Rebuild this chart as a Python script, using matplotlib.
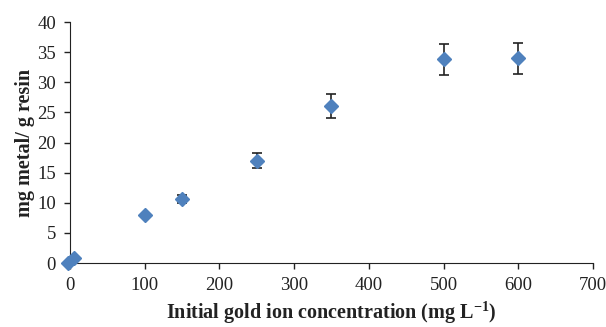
import matplotlib
matplotlib.use("Agg")
import matplotlib.pyplot as plt

# gold uptake vs initial concentration
conc = [-2, 5, 100, 150, 250, 350, 500, 600]
uptake = [0.0, 0.8, 7.9, 10.6, 17.0, 26.1, 33.8, 34.0]
err = [0.0, 0.0, 0.0, 0.7, 1.3, 2.0, 2.55, 2.55]

plt.rcParams["font.family"] = ["Liberation Serif", "DejaVu Serif"]
plt.rcParams["mathtext.fontset"] = "custom"
plt.rcParams["mathtext.rm"] = "Liberation Serif:bold"
plt.rcParams["mathtext.bf"] = "Liberation Serif:bold"
plt.rcParams["mathtext.default"] = "bf"

fig = plt.figure(figsize=(6.06, 3.27), dpi=100)
ax = fig.add_axes([0.1155, 0.1957, 0.863, 0.737])

ax.errorbar(conc, uptake, yerr=err, fmt="D", color="#4F81BD", ms=7,
            ecolor="#222222", elinewidth=1.2, capsize=3.5, capthick=1.2,
            clip_on=False, zorder=3)

ax.set_xlim(0, 700)
ax.set_ylim(0, 40)
ax.set_xticks(range(0, 701, 100))
ax.set_yticks(range(0, 41, 5))
ax.tick_params(direction="out", length=4, width=1, labelsize=13.5,
               colors="#222222", pad=6)
for s in ("top", "right"):
    ax.spines[s].set_visible(False)
for s in ("left", "bottom"):
    ax.spines[s].set_color("#222222")

ax.set_xlabel("Initial gold ion concentration (mg L$^{-1}$)", fontsize=14.5,
              fontweight="bold", color="#222222", labelpad=4)
ax.set_ylabel("mg metal/ g resin", fontsize=14.5, fontweight="bold",
              color="#222222", labelpad=2)

fig.savefig("out.png", dpi=100)
